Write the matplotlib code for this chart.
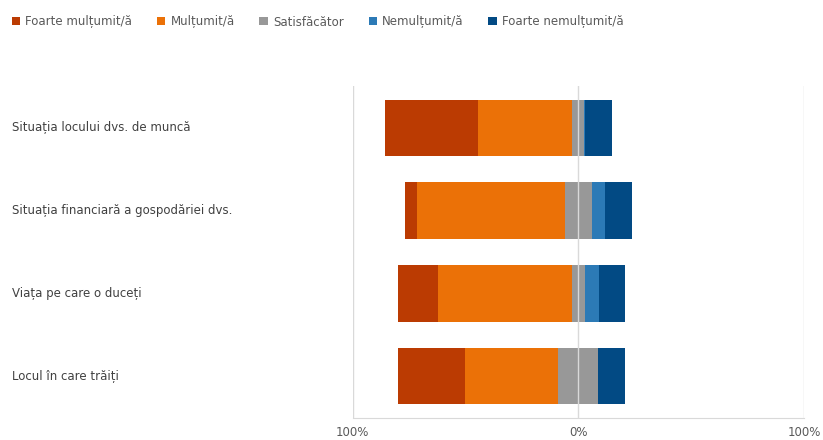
import matplotlib as mpl
mpl.use('Agg')
import matplotlib.pyplot as plt
import matplotlib.transforms as mtransforms
from matplotlib.patches import Patch
from matplotlib import font_manager
import numpy as np

categories = ['Situația locului dvs. de muncă',
              'Situația financiară a gospodăriei dvs.',
              'Viața pe care o duceți',
              'Locul în care trăiți']
series_names = ['Foarte mulțumit/ă', 'Mulțumit/ă', 'Satisfăcător',
                'Nemulțumit/ă', 'Foarte nemulțumit/ă']
foarte_multumit = [41.4, 5.6, 17.7, 29.6]
multumit = [41.8, 65.3, 59.1, 41.4]
satisfacator = [5.4, 12.0, 5.9, 17.6]
nemultumit = [0.4, 5.9, 6.3, 0.0]
foarte_nemultumit = [11.7, 11.7, 11.5, 12.0]
tick_values = [-100, 0, 100]
tick_labels = ['100%', '0%', '100%']

colors = ['#BB3B02', '#EB7107', '#989898', '#2C7AB6', '#024A84']

# pick a narrow font if there is one
installed = {f.name for f in font_manager.fontManager.ttflist}
if 'Liberation Sans Narrow' in installed:
    plt.rcParams['font.family'] = ['Liberation Sans Narrow', 'DejaVu Sans']
    fs = 10
else:
    plt.rcParams['font.family'] = ['DejaVu Sans']
    fs = 8.5

fig = plt.figure(figsize=(8.23, 4.4), dpi=100)
ax = fig.add_axes([352.7 / 823, 1 - 417.5 / 440, (804 - 352.7) / 823, 331 / 440])

y = np.arange(len(categories))
series = [foarte_multumit, multumit, satisfacator, nemultumit, foarte_nemultumit]
fm = np.array(foarte_multumit)
m = np.array(multumit)
s = np.array(satisfacator)
left = -(fm + m + s / 2)
for vals, col, name in zip(series, colors, series_names):
    vals = np.array(vals)
    ax.barh(y, vals, left=left, height=0.68, color=col, label=name, zorder=2)
    left = left + vals

for v in tick_values:
    ax.axvline(v, color='#d9d9d9', lw=1, zorder=3 if v == 0 else 1)

ax.set_xlim(-100, 100)
ax.set_ylim(len(categories) - 0.5, -0.5)
ax.set_xticks(tick_values)
ax.set_xticklabels(tick_labels)
ax.set_yticks([])
ax.tick_params(axis='x', length=0, pad=6, labelsize=fs, labelcolor='#595959')
for sp in ['top', 'left', 'right']:
    ax.spines[sp].set_visible(False)
ax.spines['bottom'].set_color('#d9d9d9')

trans = mtransforms.blended_transform_factory(fig.transFigure, ax.transData)
for i, cat in enumerate(categories):
    ax.text(12 / 823, i, cat, transform=trans, ha='left', va='center',
            fontsize=fs, color='#404040')

handles = [Patch(facecolor=c, label=n) for c, n in zip(colors, series_names)]
fig.legend(handles=handles, loc='center left', bbox_to_anchor=(7 / 823, 1 - 22 / 440),
           ncol=5, frameon=False, fontsize=fs, labelcolor='#595959',
           handlelength=0.7, handleheight=0.7, handletextpad=0.45, columnspacing=2.1,
           borderaxespad=0)

fig.savefig('out.png', dpi=100)
